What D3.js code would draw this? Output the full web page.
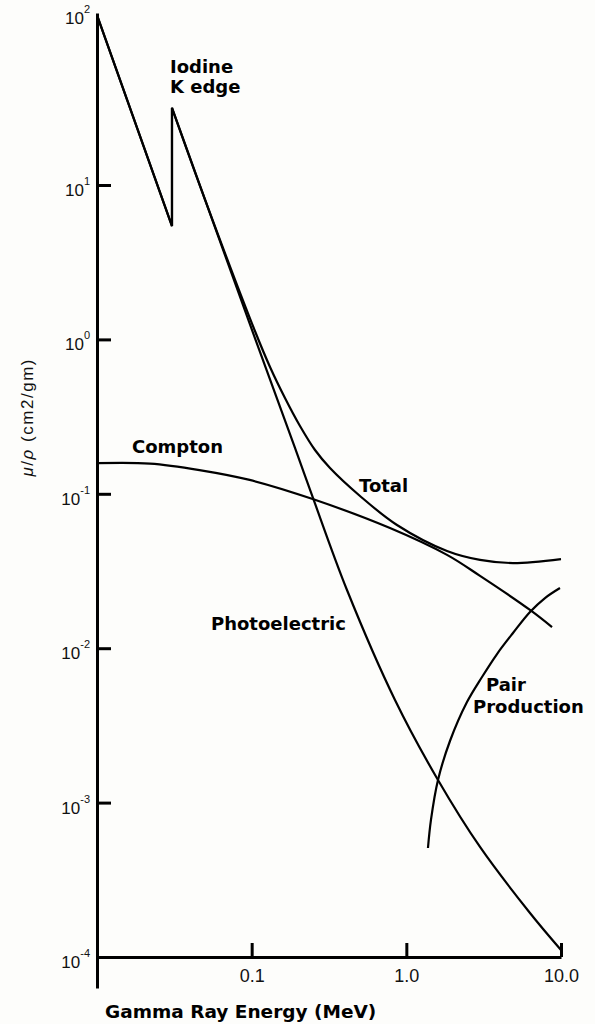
<!DOCTYPE html>
<html>
<head>
<meta charset="utf-8">
<script src="https://cdn.jsdelivr.net/npm/d3@7"></script>
<style>
  body { margin: 0; background: #fdfdfb; }
  svg { display: block; }
</style>
</head>
<body>
<div id="chart"></div>
<script>
// mass attenuation of NaI(Tl) vs gamma energy
const totalE = [0.01, 0.03054, 0.03054, 0.0498, 0.1050, 0.1314, 0.1642, 0.2053, 0.2567, 0.3210, 0.5017, 0.870, 1.832, 2.995, 4.894, 10]
const totalV = [126, 5.42, 31.6, 8.1, 1.133, 0.6627, 0.4173, 0.2749, 0.1922, 0.1469, 0.0968, 0.0628, 0.0426, 0.0373, 0.0356, 0.0378]

const photoE = [0.01, 0.03054, 0.03054, 0.1050, 0.1906, 0.2491, 0.4133, 0.8447, 1.602, 2.995, 6.302, 10]
const photoV = [126, 5.42, 31.6, 1.02, 0.198, 0.094, 0.02381, 0.004618, 0.001401, 0.000516, 0.0001928, 0.000111]

const comptonE = [0.01, 0.022, 0.046, 0.097, 0.248, 0.784, 1.832, 2.995, 6.302, 8.75]
const comptonV = [0.158, 0.157, 0.1425, 0.123, 0.0925, 0.060, 0.0402, 0.0294, 0.0177, 0.0137]

const pairE = [1.380, 1.443, 1.602, 1.915, 2.467, 3.085, 3.857, 4.893, 6.302, 7.879, 9.85]
const pairV = [0.000508, 0.000772, 0.001401, 0.002506, 0.00448, 0.00651, 0.00917, 0.01254, 0.01716, 0.02113, 0.02454]

const xTicks = [0.1, 1, 10]
const xTickLabels = ['0.1', '1.0', '10.0']
const yTicks = [1e1, 1e0, 1e-1, 1e-2, 1e-3, 1e-4]
const yLabelExps = [2, 1, 0, -1, -2, -3, -4]

const width = 595
const height = 1024

const svg = d3.select('#chart')
    .append('svg')
    .attr('width', width)
    .attr('height', height)

svg.append('rect')
    .attr('width', width)
    .attr('height', height)
    .attr('fill', '#fdfdfb')

// scales (log-log)
const yMax = 130
const yMin = Math.pow(10, -4.2)
const decade = 154.4
const y = d3.scaleLog()
    .domain([yMin, yMax])
    .range([957 + 0.2 * decade, 957 - Math.log10(yMax / 1e-4) * decade])

const x = d3.scaleLog()
    .domain([0.01, 10])
    .range([97, 561])

// y axis, ticks pointing inward
const yAxis = svg.append('g')
    .attr('transform', 'translate(97,0)')
    .call(d3.axisLeft(y)
        .tickValues(yTicks)
        .tickSizeInner(-14)
        .tickSizeOuter(0)
        .tickFormat(() => ''))
yAxis.selectAll('path, line').attr('stroke', '#000').attr('stroke-width', 3)

// y tick labels as 10 with superscript exponent
yLabelExps.forEach((e) => {
    const pos = e === 2 ? y(yMax) : y(Math.pow(10, e))
    const t = svg.append('text')
        .attr('x', 90)
        .attr('y', pos + 11)
        .attr('text-anchor', 'end')
        .attr('font-family', 'Liberation Sans, Arial, sans-serif')
        .attr('font-size', 17)
        .attr('fill', '#111')
    t.append('tspan').text('10')
    t.append('tspan')
        .attr('dy', -11)
        .attr('font-size', 11)
        .text(e < 0 ? '-' + (-e) : String(e))
})

// x axis
const xAxis = svg.append('g')
    .attr('transform', 'translate(0,957)')
    .call(d3.axisBottom(x)
        .tickValues(xTicks)
        .tickSizeInner(-14)
        .tickSizeOuter(0)
        .tickPadding(12)
        .tickFormat((d, i) => xTickLabels[i]))
xAxis.selectAll('path, line').attr('stroke', '#000').attr('stroke-width', 3)
xAxis.selectAll('text')
    .attr('font-family', 'Liberation Sans, Arial, sans-serif')
    .attr('font-size', 18)
    .attr('fill', '#111')

// axis titles
svg.append('text')
    .attr('x', 105)
    .attr('y', 1018)
    .attr('font-family', 'DejaVu Sans, sans-serif')
    .attr('font-weight', 'bold')
    .attr('font-size', 18.5)
    .text('Gamma Ray Energy (MeV)')

const yTitle = svg.append('text')
    .attr('transform', 'translate(33,418) rotate(-90)')
    .attr('text-anchor', 'middle')
    .attr('font-family', 'Liberation Sans, Arial, sans-serif')
    .attr('font-size', 17)
    .attr('textLength', 117)
    .attr('fill', '#111')
yTitle.append('tspan').attr('font-style', 'italic').text('μ')
yTitle.append('tspan').text('/')
yTitle.append('tspan').attr('font-style', 'italic').text('ρ')
yTitle.append('tspan').text(' (cm2/gm)')

// curves: split at the K edge so the jump is a straight vertical
const line = d3.line()
    .x((d) => x(d[0]))
    .y((d) => y(d[1]))
    .curve(d3.curveCatmullRom.alpha(0.5))

function curvePath(es, vs) {
    const pts = es.map((e, i) => [e, vs[i]])
    const pieces = [[pts[0]]]
    for (let i = 1; i < pts.length; i++) {
        if (pts[i][0] === pts[i - 1][0]) pieces.push([])
        pieces[pieces.length - 1].push(pts[i])
    }
    return pieces.map((p, i) => {
        const s = line(p)
        return i === 0 ? s : s.replace(/^M/, 'L')
    }).join('')
}

const series = [
    [totalE, totalV],
    [photoE, photoV],
    [comptonE, comptonV],
    [pairE, pairV]
]

svg.selectAll('.curve')
    .data(series)
    .enter()
    .append('path')
    .attr('class', 'curve')
    .attr('d', (d) => curvePath(d[0], d[1]))
    .attr('fill', 'none')
    .attr('stroke', '#000')
    .attr('stroke-width', 2.2)
    .attr('stroke-linejoin', 'miter')

// annotations
const notes = [
    ['Iodine', 170, 73],
    ['K edge', 170, 93],
    ['Compton', 132, 453],
    ['Total', 359, 492],
    ['Photoelectric', 211, 630],
    ['Pair', 486, 691],
    ['Production', 473, 713]
]
svg.selectAll('.note')
    .data(notes)
    .enter()
    .append('text')
    .attr('class', 'note')
    .attr('x', (d) => d[1])
    .attr('y', (d) => d[2])
    .attr('font-family', 'DejaVu Sans, sans-serif')
    .attr('font-weight', 'bold')
    .attr('font-size', 18)
    .text((d) => d[0])
</script>
</body>
</html>
